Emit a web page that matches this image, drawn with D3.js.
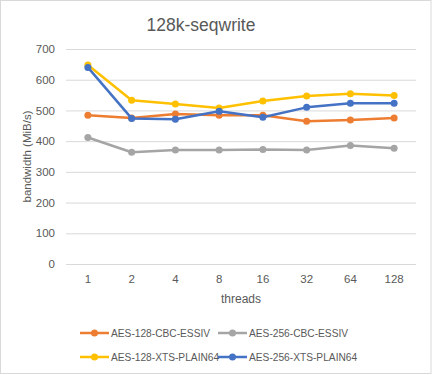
<!DOCTYPE html>
<html>
<head>
<meta charset="utf-8">
<script src="https://cdn.jsdelivr.net/npm/d3@7"></script>
<style>
  body { margin: 0; background: #fff; }
  svg { display: block; font-family: "Liberation Sans", Arial, sans-serif; }
</style>
</head>
<body>
<div id="chart"></div>
<script>
// threads on the x axis
const threads = ['1', '2', '4', '8', '16', '32', '64', '128'];

// bandwidth (MiB/s) per cipher
const aes128CbcEssiv = [484, 475, 488, 484, 484, 465, 469, 475];
const aes256CbcEssiv = [412, 364, 371, 371, 373, 371, 386, 377];
const aes128XtsPlain64 = [648, 533, 521, 508, 531, 547, 554, 549];
const aes256XtsPlain64 = [640, 474, 471, 497, 478, 510, 523, 523];

const seriesNames = ['AES-128-CBC-ESSIV', 'AES-256-CBC-ESSIV', 'AES-128-XTS-PLAIN64', 'AES-256-XTS-PLAIN64'];
const seriesColors = ['#ED7D31', '#A5A5A5', '#FFC000', '#4472C4'];
const yTicks = [0, 100, 200, 300, 400, 500, 600, 700];

const series = [aes128CbcEssiv, aes256CbcEssiv, aes128XtsPlain64, aes256XtsPlain64].map((values, i) => ({
  name: seriesNames[i],
  color: seriesColors[i],
  values: values
}));

const width = 432;
const height = 375;
const margin = { top: 49, right: 16, bottom: 111, left: 66 };

const svg = d3.select('#chart')
  .append('svg')
  .attr('width', width)
  .attr('height', height);

// outer chart border
svg.append('rect')
  .attr('x', 0.5).attr('y', 0.5)
  .attr('width', width - 1.5).attr('height', height - 2)
  .attr('fill', '#fff')
  .attr('stroke', '#d9d9d9');

const x = d3.scaleBand()
  .domain(threads)
  .range([margin.left, width - margin.right]);

const y = d3.scaleLinear()
  .domain([0, 700])
  .range([height - margin.bottom, margin.top]);

// title
svg.append('text')
  .attr('x', 201).attr('y', 31)
  .attr('text-anchor', 'middle')
  .attr('fill', '#595959')
  .style('font-size', '17.5px')
  .text('128k-seqwrite');

// gridlines + y labels
const yAxis = d3.axisLeft(y)
  .tickValues(yTicks)
  .tickSize(-(width - margin.left - margin.right))
  .tickPadding(11);

const gy = svg.append('g')
  .attr('transform', `translate(${margin.left},0)`)
  .call(yAxis);
gy.select('.domain').remove();
gy.selectAll('.tick line').attr('stroke', '#d9d9d9');
gy.selectAll('.tick text')
  .attr('fill', '#595959')
  .style('font-size', '11.5px')
  .style('font-family', '"Liberation Sans", Arial, sans-serif');

// x labels
const xAxis = d3.axisBottom(x).tickSize(0).tickPadding(11);
const gx = svg.append('g')
  .attr('transform', `translate(0,${height - margin.bottom})`)
  .call(xAxis);
gx.select('.domain').remove();
gx.selectAll('.tick text')
  .attr('fill', '#595959')
  .style('font-size', '11.5px')
  .style('font-family', '"Liberation Sans", Arial, sans-serif');

// axis titles
svg.append('text')
  .attr('transform', `translate(31,${(y(0) + y(700)) / 2}) rotate(-90)`)
  .attr('text-anchor', 'middle')
  .attr('fill', '#595959')
  .style('font-size', '11.5px')
  .text('bandwidth (MiB/s)');

svg.append('text')
  .attr('x', (margin.left + width - margin.right) / 2)
  .attr('y', 303)
  .attr('text-anchor', 'middle')
  .attr('fill', '#595959')
  .style('font-size', '12px')
  .text('threads');

// lines
const line = d3.line()
  .x((d, i) => x(threads[i]) + x.bandwidth() / 2)
  .y(d => y(d));

series.forEach(s => {
  const g = svg.append('g');
  g.append('path')
    .datum(s.values)
    .attr('d', line)
    .attr('fill', 'none')
    .attr('stroke', s.color)
    .attr('stroke-width', 2.5)
    .attr('stroke-linejoin', 'round');
  g.selectAll('circle')
    .data(s.values)
    .enter()
    .append('circle')
    .attr('cx', (d, i) => x(threads[i]) + x.bandwidth() / 2)
    .attr('cy', d => y(d))
    .attr('r', 3.5)
    .attr('fill', s.color);
});

// legend, two per row
const legend = svg.append('g');
series.forEach((s, i) => {
  const lx = i % 2 === 0 ? 80 : 218;
  const ly = i < 2 ? 333 : 357;
  const item = legend.append('g').attr('transform', `translate(${lx},${ly})`);
  item.append('line')
    .attr('x1', 0).attr('x2', 29)
    .attr('stroke', s.color)
    .attr('stroke-width', 2.5);
  item.append('circle')
    .attr('cx', 14.5).attr('r', 3.5)
    .attr('fill', s.color);
  item.append('text')
    .attr('x', 31).attr('dy', '0.35em')
    .attr('fill', '#595959')
    .style('font-size', '10.2px')
    .text(s.name);
});
</script>
</body>
</html>
